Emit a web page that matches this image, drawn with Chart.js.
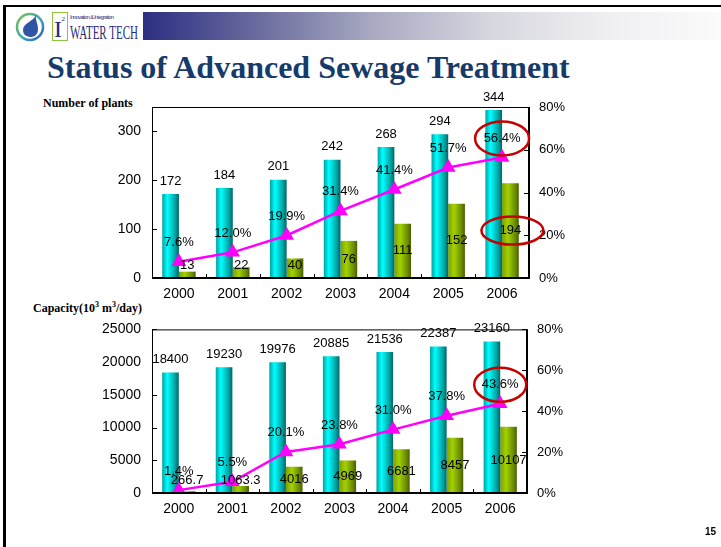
<!DOCTYPE html>
<html>
<head>
<meta charset="utf-8">
<script src="https://cdn.jsdelivr.net/npm/chart.js@4.4.1/dist/chart.umd.min.js"></script>
<style>
body { margin: 0; background: #fff; }
#slide { position: relative; width: 721px; height: 547px; overflow: hidden; font-family: "Liberation Sans", Arial, sans-serif; }
#frameTop { position: absolute; left: 3px; top: 5px; width: 718px; height: 2px; background: #000; }
#frameLeft { position: absolute; left: 3px; top: 5px; width: 3px; height: 542px; background: #000; }
#band { position: absolute; left: 143px; top: 12px; width: 578px; height: 28px;
  background: linear-gradient(to right, #2c2e82 0%, #6a6c9e 20%, #a9aac2 40%, #d6d6df 60%, #efeff2 80%, #fbfbfb 100%); }
#logo { position: absolute; left: 12px; top: 9px; }
#title { position: absolute; left: 47px; top: 49px; font-family: "Liberation Serif", "Times New Roman", serif;
  font-weight: bold; font-size: 32px; color: #163b6b; white-space: nowrap; }
.axisTitle { position: absolute; font-family: "Liberation Serif", "Times New Roman", serif; font-weight: bold;
  font-size: 12px; color: #000; white-space: nowrap; }
#pageNo { position: absolute; left: 705px; top: 526px; font-size: 10px; font-weight: bold; }
canvas { position: absolute; left: 0; }
#plantsChart { top: 85px; }
#capacityChart { top: 310px; }
</style>
</head>
<body>
<div id="slide">
  <div id="frameTop"></div>
  <div id="frameLeft"></div>
  <div id="band"></div>
  <svg id="logo" width="130" height="34" viewBox="0 0 130 34">
    <defs>
      <linearGradient id="ring" x1="0" y1="0" x2="1" y2="1">
        <stop offset="0" stop-color="#7dc242"/>
        <stop offset="0.6" stop-color="#3aa0c8"/>
        <stop offset="1" stop-color="#2d5aa8"/>
      </linearGradient>
    </defs>
    <circle cx="18" cy="18" r="13" fill="none" stroke="url(#ring)" stroke-width="2.5"/>
    <path d="M24 6 C22 12 11 14 11 21 C11 26 15 28 19 28 C24 28 26 24 26 20 C26 14 23 11 24 6 Z" fill="#2f55a4"/>
    <rect x="40.5" y="3.5" width="15" height="28" fill="#fff" stroke="#8cc63f" stroke-width="1"/>
    <text x="42" y="28" font-family="Liberation Serif, serif" font-size="24" fill="#2a2a7a">I</text>
    <text x="49.5" y="12" font-family="Liberation Serif, serif" font-size="7" fill="#2a2a7a">2</text>
    <text x="58" y="10" font-family="Liberation Sans, sans-serif" font-size="5.5" fill="#2a2a7a" textLength="44">Innovation &amp; Integration</text>
    <text x="58" y="30" font-family="Liberation Serif, serif" font-size="18" fill="#2a2a7a" textLength="68" lengthAdjust="spacingAndGlyphs">WATER TECH</text>
  </svg>
  <div id="title">Status of Advanced Sewage Treatment</div>
  <div class="axisTitle" style="left:43px; top:96px;">Number of plants</div>
  <div class="axisTitle" style="left:33px; top:300px;">Capacity(10<sup style="font-size:8px">3</sup> m<sup style="font-size:8px">3</sup>/day)</div>
  <canvas id="plantsChart" width="721" height="220"></canvas>
  <canvas id="capacityChart" width="721" height="237"></canvas>
  <div id="pageNo">15</div>
</div>

<script>
// Chart data
const years = ['2000', '2001', '2002', '2003', '2004', '2005', '2006'];

const plantsTotal = [172, 184, 201, 242, 268, 294, 344];
const plantsAdvanced = [13, 22, 40, 76, 111, 152, 194];
const plantsRatio = [7.6, 12.0, 19.9, 31.4, 41.4, 51.7, 56.4];

const capacityTotal = [18400, 19230, 19976, 20885, 21536, 22387, 23160];
const capacityAdvanced = [266.7, 1063.3, 4016, 4969, 6681, 8457, 10107];
const capacityRatio = [1.4, 5.5, 20.1, 23.8, 31.0, 37.8, 43.6];

const percentTicks = [0, 20, 40, 60, 80];

const SANS = '"Liberation Sans", Arial, sans-serif';
const CAT_PCT = 0.62;

// cylinder-like shading for every bar, built from the x scale
function cylinderFill(stops) {
    return function(c) {
        const chart = c.chart;
        const x = chart.scales.x;
        if (c.type !== 'data' || !x || !x.width) return stops[1][1];
        const catW = x.width / years.length;
        const barW = catW * CAT_PCT / 2;
        const left = x.getPixelForValue(c.dataIndex) - catW * CAT_PCT / 2 + c.datasetIndex * barW;
        const g = chart.ctx.createLinearGradient(left, 0, left + barW, 0);
        stops.forEach(s => g.addColorStop(s[0], s[1]));
        return g;
    };
}

const cyanStops = [[0, '#00a2a2'], [0.3, '#00ffff'], [0.75, '#00a8a8'], [1, '#006666']];
const greenStops = [[0, '#7f9f00'], [0.35, '#a2d200'], [0.8, '#6a8a00'], [1, '#475e00']];

// box, inner tick marks, value labels and the red circles
const slideDecor = {
    id: 'slideDecor',
    afterDatasetsDraw(chart, args, opts) {
        const ctx = chart.ctx;
        const a = chart.chartArea;
        ctx.save();
        ctx.strokeStyle = '#000';
        ctx.lineWidth = 1;
        ctx.strokeRect(a.left + 0.5, a.top + 0.5, a.right - a.left, a.bottom - a.top);
        ctx.lineWidth = 2;
        ctx.beginPath();
        ctx.moveTo(a.right, a.top); ctx.lineTo(a.right, a.bottom + 1);
        ctx.moveTo(a.left, a.bottom); ctx.lineTo(a.right + 1, a.bottom);
        ctx.stroke();

        // inner ticks
        ctx.lineWidth = 1;
        ctx.beginPath();
        chart.scales.y.ticks.forEach(t => {
            const y = Math.round(chart.scales.y.getPixelForValue(t.value)) + 0.5;
            ctx.moveTo(a.left, y); ctx.lineTo(a.left + 5, y);
        });
        chart.scales.y1.ticks.forEach(t => {
            const y = Math.round(chart.scales.y1.getPixelForValue(t.value)) + 0.5;
            ctx.moveTo(a.right - 5, y); ctx.lineTo(a.right, y);
        });
        const catW = (a.right - a.left) / years.length;
        for (let i = 1; i < years.length; i++) {
            const x = Math.round(a.left + catW * i) + 0.5;
            ctx.moveTo(x, a.bottom - 4); ctx.lineTo(x, a.bottom);
        }
        ctx.stroke();

        // value labels
        ctx.fillStyle = '#000';
        ctx.font = '13px ' + SANS;
        ctx.textAlign = 'center';
        ctx.textBaseline = 'middle';
        const spots = {};
        chart.data.datasets.forEach((ds, di) => {
            const meta = chart.getDatasetMeta(di);
            spots[di] = [];
            meta.data.forEach((el, i) => {
                const v = ds.data[i];
                let txt = String(v), y;
                if (ds.type === 'line') {
                    txt = v.toFixed(1) + '%';
                    y = el.y - 19;
                } else if (di === 0) {
                    y = el.y - 13;
                } else {
                    y = Math.min((el.y + el.base) / 2, el.base - 13);
                }
                spots[di].push({x: el.x, y: y});
                ctx.fillText(txt, el.x, y);
            });
        });

        // red circles
        ctx.strokeStyle = '#c80000';
        ctx.lineWidth = 2.5;
        (opts.circles || []).forEach(c => {
            const p = spots[c.dataset][c.index];
            ctx.beginPath();
            ctx.ellipse(p.x + c.dx, p.y, c.rx, c.ry, 0, 0, Math.PI * 2);
            ctx.stroke();
        });
        ctx.restore();
    }
};

function buildChart(canvasId, totals, advanced, ratio, yMax, yStep, rightPad, bottomPad, topPad, circles) {
    const ctx = document.getElementById(canvasId).getContext('2d');
    return new Chart(ctx, {
        type: 'bar',
        data: {
            labels: years,
            datasets: [
                {
                    label: 'Total',
                    data: totals,
                    backgroundColor: cylinderFill(cyanStops),
                    yAxisID: 'y',
                    order: 1
                },
                {
                    label: 'Advanced',
                    data: advanced,
                    backgroundColor: cylinderFill(greenStops),
                    yAxisID: 'y',
                    order: 1
                },
                {
                    type: 'line',
                    label: 'Ratio',
                    data: ratio,
                    borderColor: '#ff00ff',
                    backgroundColor: '#ff00ff',
                    borderWidth: 2.5,
                    pointStyle: 'triangle',
                    pointRadius: 6,
                    pointBackgroundColor: '#ff00ff',
                    pointBorderColor: '#ff00ff',
                    tension: 0,
                    yAxisID: 'y1',
                    order: 0
                }
            ]
        },
        options: {
            responsive: false,
            animation: false,
            datasets: {
                bar: { categoryPercentage: CAT_PCT, barPercentage: 1.0 }
            },
            layout: { padding: { left: 0, right: rightPad, top: topPad, bottom: bottomPad } },
            scales: {
                x: {
                    grid: { display: false, drawTicks: false },
                    border: { display: false },
                    ticks: { color: '#000', font: { size: 14, family: SANS }, padding: 8 },
                    afterFit(s) { s.height = 26; }
                },
                y: {
                    position: 'left',
                    min: 0,
                    max: yMax,
                    grid: { display: false, drawTicks: false },
                    border: { display: false },
                    ticks: {
                        stepSize: yStep, color: '#000', font: { size: 14, family: SANS }, padding: 11,
                        callback: v => String(v)
                    },
                    afterBuildTicks(s) { s.ticks = s.ticks.filter(t => t.value % yStep === 0); },
                    afterFit(s) { s.width = 152; }
                },
                y1: {
                    position: 'right',
                    min: 0,
                    max: 80,
                    grid: { display: false, drawTicks: false },
                    border: { display: false },
                    ticks: {
                        stepSize: 20, color: '#000', font: { size: 13, family: SANS }, padding: 10,
                        callback: v => v + '%'
                    },
                    afterBuildTicks(s) { s.ticks = percentTicks.map(v => ({ value: v })); },
                    afterFit(s) { s.width = 60; }
                }
            },
            plugins: {
                legend: { display: false },
                tooltip: { enabled: false },
                slideDecor: { circles: circles }
            }
        },
        plugins: [slideDecor]
    });
}

document.addEventListener("DOMContentLoaded", function() {
    buildChart('plantsChart', plantsTotal, plantsAdvanced, plantsRatio, 350, 100, 132, 1, 22, [
        { dataset: 2, index: 6, dx: 0, rx: 27, ry: 17 },
        { dataset: 1, index: 6, dx: 2, rx: 31, ry: 14 }
    ]);
    buildChart('capacityChart', capacityTotal, capacityAdvanced, capacityRatio, 25000, 5000, 134, 28, 18, [
        { dataset: 2, index: 6, dx: 0, rx: 26, ry: 17 }
    ]);
});
</script>
</body>
</html>
